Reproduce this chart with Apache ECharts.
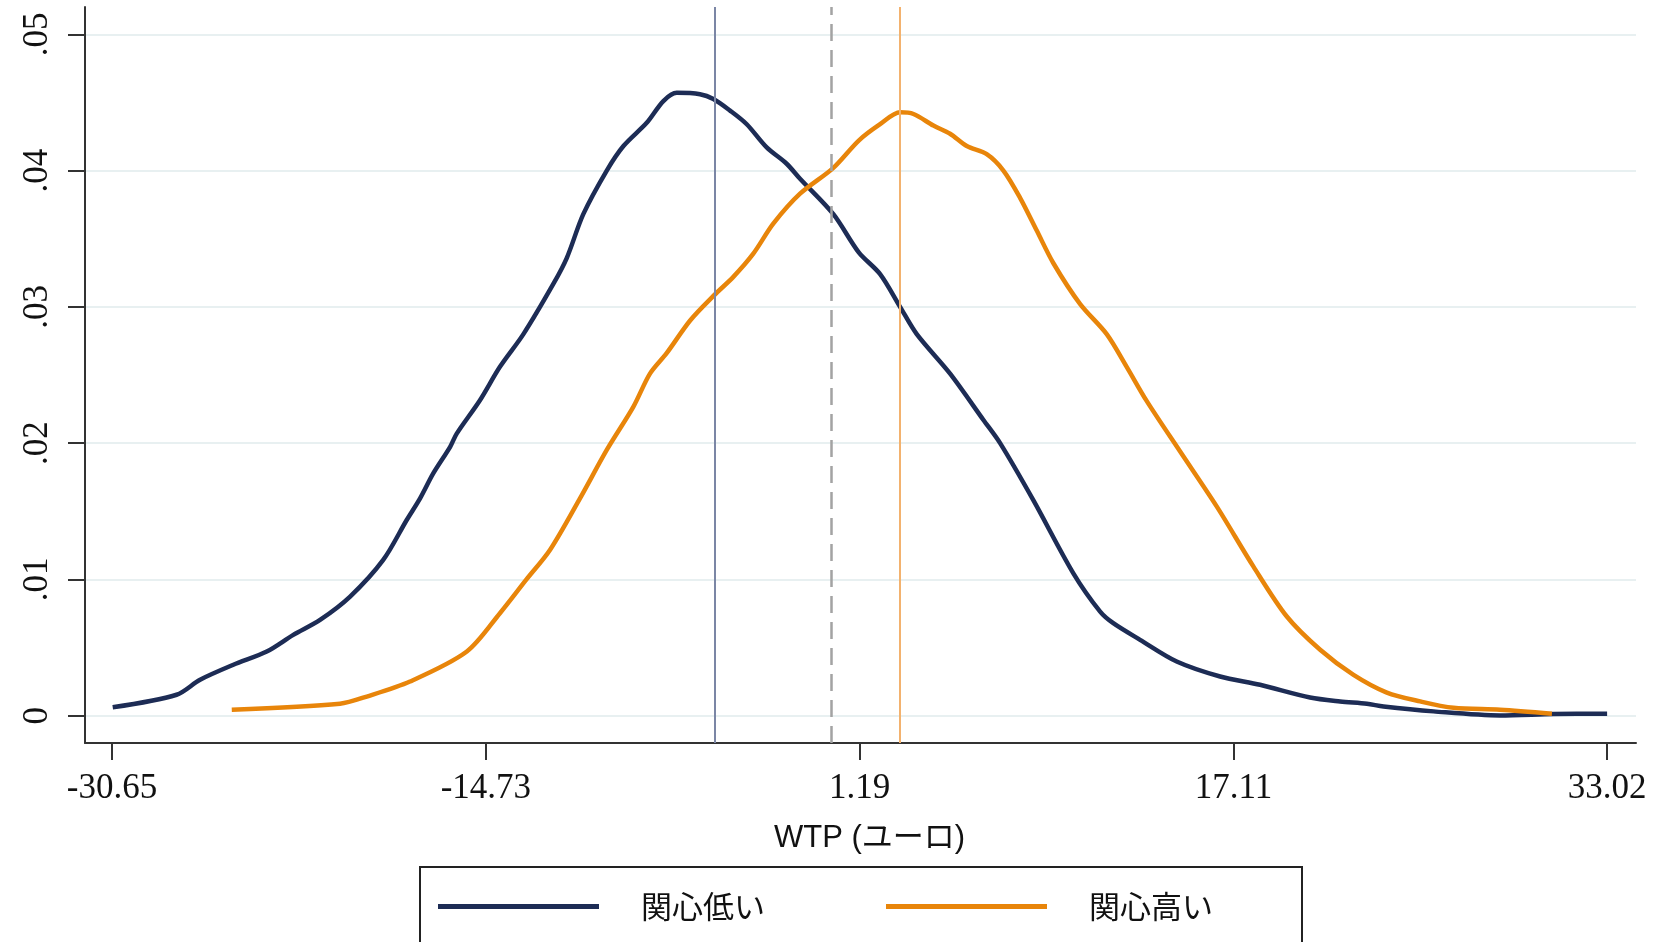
<!DOCTYPE html>
<html>
<head>
<meta charset="utf-8">
<script src="https://cdn.jsdelivr.net/npm/echarts@6/dist/echarts.min.js"></script>
<style>html,body{margin:0;padding:0;background:#fff}#c{width:1676px;height:942px}</style>
</head>
<body>
<div id="c"></div>
<script>
// ---- data ----
var seriesNames = ['関心低い', '関心高い'];
var xTickValues = [-30.65, -14.73, 1.19, 17.11, 33.02];
var yTickValues = [0, 0.01, 0.02, 0.03, 0.04, 0.05];
var yTickLabels = ['0', '.01', '.02', '.03', '.04', '.05'];
var meanLow = -5.0;
var zeroRef = 0;
var meanHigh = 2.9;

var lowConcern = [
  [-30.62, 0.00062], [-27.90, 0.00154], [-26.90, 0.00264], [-25.48, 0.00374],
  [-24.06, 0.00471], [-22.93, 0.00593], [-21.79, 0.00703], [-20.51, 0.00874],
  [-19.10, 0.01143], [-18.10, 0.01436], [-17.53, 0.01595], [-16.97, 0.01778],
  [-16.25, 0.01973], [-15.97, 0.0207], [-14.98, 0.02315], [-14.13, 0.0256],
  [-13.13, 0.0280], [-11.85, 0.0317], [-11.28, 0.0336], [-10.58, 0.0368],
  [-9.58, 0.0400], [-8.87, 0.0418], [-7.88, 0.0435], [-7.17, 0.0451],
  [-6.60, 0.0457], [-5.61, 0.0456], [-5.04, 0.04525], [-4.33, 0.0444],
  [-3.62, 0.0434], [-2.77, 0.0417], [-1.92, 0.0405], [-1.35, 0.0394],
  [0.07, 0.0368], [1.15, 0.0340], [2.06, 0.0324], [2.91, 0.0300],
  [3.62, 0.0280], [5.04, 0.0251], [6.46, 0.0217], [7.17, 0.0200],
  [8.59, 0.0158], [10.29, 0.01045], [11.43, 0.00764], [11.99, 0.00679],
  [13.13, 0.00557], [14.69, 0.00398], [16.54, 0.00288], [18.24, 0.00227],
  [20.37, 0.00134], [21.65, 0.00105], [22.79, 0.00088], [23.50, 0.00068],
  [25.63, 0.00032], [28.46, 0.00002], [30.74, 0.00012], [33.02, 0.00015]
];
var highConcern = [
  [-25.55, 0.00044], [-20.94, 0.00088], [-19.80, 0.00141], [-17.96, 0.00251],
  [-15.54, 0.00471], [-14.13, 0.00752], [-13.00, 0.0100], [-12.00, 0.01216],
  [-10.72, 0.01595], [-9.58, 0.0195], [-8.45, 0.02266], [-7.74, 0.0251],
  [-7.03, 0.0266], [-6.03, 0.0290], [-5.04, 0.0308], [-4.19, 0.0322],
  [-3.34, 0.0339], [-2.49, 0.0361], [-1.35, 0.0383], [0.07, 0.0402],
  [1.15, 0.0422], [2.06, 0.0434], [2.91, 0.04427], [3.48, 0.04415],
  [4.33, 0.0433], [5.04, 0.0427], [5.75, 0.0418], [6.60, 0.0412],
  [7.31, 0.0400], [8.02, 0.0380], [8.73, 0.0356], [9.44, 0.0332],
  [10.58, 0.0302], [11.71, 0.0280], [12.56, 0.0256], [13.41, 0.0231],
  [14.83, 0.0194], [16.40, 0.01534], [17.96, 0.01094], [19.38, 0.00728],
  [20.80, 0.00484], [22.22, 0.00300], [23.64, 0.00170], [25.06, 0.00105],
  [26.48, 0.00058], [28.46, 0.00044], [30.67, 0.00015]
];

var navy = '#1d2c55';
var orange = '#e8850a';

var chart = echarts.init(document.getElementById('c'), null, {renderer: 'canvas'});
chart.setOption({
  backgroundColor: '#ffffff',
  animation: false,
  grid: {left: 85, top: 7, right: 40, bottom: 199, containLabel: false},
  legend: {
    left: 420, top: 867,
    padding: [24, 89, 120, 18],
    borderColor: '#222', borderWidth: 2,
    icon: 'rect', itemWidth: 161, itemHeight: 5, itemGap: 121,
    textStyle: {fontFamily: '"Noto Sans CJK JP", sans-serif', fontSize: 31, color: '#111', padding: [0, 0, 0, 37]},
    data: seriesNames
  },
  xAxis: {
    type: 'value', min: -31.8, max: 34.25,
    name: 'WTP (ユーロ)', nameLocation: 'middle', nameGap: 80,
    nameTextStyle: {fontFamily: '"Liberation Sans", Arial, "Noto Sans CJK JP", sans-serif', fontSize: 31, color: '#111', padding: [0, 0, 0, 18]},
    axisLine: {show: true, onZero: false, lineStyle: {color: '#333', width: 2}},
    axisTick: {show: true, length: 17, lineStyle: {color: '#333', width: 2}, customValues: xTickValues},
    axisLabel: {
      customValues: xTickValues, margin: 28,
      fontFamily: '"Liberation Serif", "Times New Roman", serif', fontSize: 35, color: '#111',
      formatter: function (v) { return v.toFixed(2); }
    },
    splitLine: {show: false}
  },
  yAxis: {
    type: 'value', min: -0.002, max: 0.052,
    axisLine: {show: true, onZero: false, lineStyle: {color: '#333', width: 2}},
    axisTick: {show: true, length: 17, lineStyle: {color: '#333', width: 2}, customValues: yTickValues},
    axisLabel: {
      customValues: yTickValues, rotate: 90, margin: 30,
      fontFamily: '"Liberation Serif", "Times New Roman", serif', fontSize: 35, color: '#111',
      formatter: function (v) {
        var i = yTickValues.findIndex(function (t) { return Math.abs(t - v) < 1e-9; });
        return i >= 0 ? yTickLabels[i] : '';
      }
    },
    splitLine: {show: true, lineStyle: {color: '#e8f0f1', width: 2}}
  },
  series: [
    {
      name: seriesNames[0], type: 'line', data: lowConcern, showSymbol: false, smooth: 0.3,
      lineStyle: {color: navy, width: 4.5}, itemStyle: {color: navy}, z: 3,
      markLine: {
        silent: true, symbol: 'none', label: {show: false},
        data: [
          {xAxis: meanLow, lineStyle: {color: '#7b86a5', width: 2, type: 'solid'}},
          {xAxis: zeroRef, lineStyle: {color: '#a3a3a3', width: 2.5, type: [17, 9]}}
        ]
      }
    },
    {
      name: seriesNames[1], type: 'line', data: highConcern, showSymbol: false, smooth: 0.3,
      lineStyle: {color: orange, width: 4.5}, itemStyle: {color: orange}, z: 4,
      markLine: {
        silent: true, symbol: 'none', label: {show: false},
        data: [
          {xAxis: meanHigh, lineStyle: {color: '#f3b26e', width: 2, type: 'solid'}}
        ]
      }
    }
  ]
});
</script>
</body>
</html>
